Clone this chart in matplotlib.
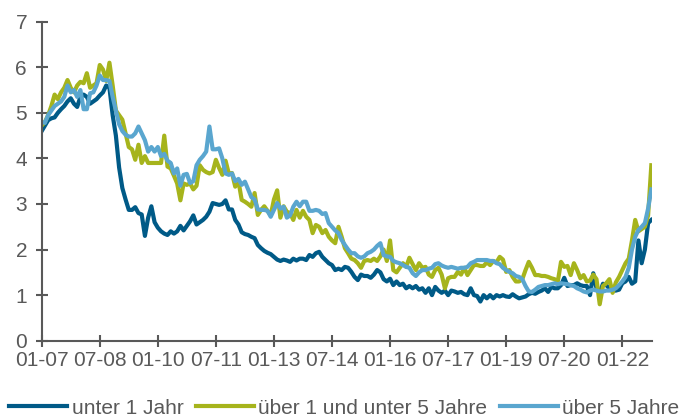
import matplotlib
matplotlib.use("Agg")
import matplotlib.pyplot as plt
import numpy as np

# Monthly values, Jan 2007 .. Oct 2022
unter_1_jahr = [
    4.6, 4.72, 4.84, 4.88, 4.9, 5.0, 5.08, 5.15, 5.25, 5.32, 5.2, 5.13,
    5.35, 5.4, 5.35, 5.2, 5.25, 5.3, 5.38, 5.45, 5.6, 5.55, 4.95, 4.5,
    3.8, 3.35, 3.1, 2.87, 2.87, 2.93, 2.8, 2.77, 2.3, 2.7, 2.95, 2.6,
    2.48, 2.4, 2.35, 2.32, 2.4, 2.35, 2.4, 2.52, 2.42, 2.52, 2.62, 2.75,
    2.55, 2.6, 2.65, 2.72, 2.83, 3.02, 3.0, 2.98, 3.0, 3.08, 2.88, 2.88,
    2.65, 2.55, 2.38, 2.34, 2.32, 2.28, 2.25, 2.1, 2.03, 1.97, 1.93, 1.9,
    1.84, 1.78, 1.75, 1.78, 1.76, 1.73, 1.8, 1.76, 1.8, 1.8, 1.77, 1.88,
    1.84, 1.92, 1.95, 1.84, 1.77, 1.7, 1.66, 1.55, 1.58, 1.55, 1.62, 1.6,
    1.51, 1.4, 1.33, 1.45, 1.42, 1.42, 1.38, 1.45, 1.55, 1.5, 1.35, 1.3,
    1.36, 1.22, 1.3, 1.22, 1.25, 1.15, 1.2, 1.15, 1.2, 1.12, 1.15, 1.05,
    1.15, 1.0, 1.18, 1.1, 1.05, 1.1, 1.0, 1.1, 1.08, 1.05, 1.07, 1.02,
    1.0, 1.15, 1.0, 0.98, 0.86, 1.0, 0.93, 1.0, 0.93, 1.0, 0.97, 1.0,
    0.97, 0.96, 1.02, 0.97, 0.93, 0.95, 0.97, 1.02, 1.05, 1.03, 1.07, 1.1,
    1.15, 1.07, 1.18, 1.15, 1.15, 1.22, 1.38, 1.2, 1.22, 1.22, 1.26, 1.22,
    1.2, 1.2, 1.0, 1.48, 1.15, 1.05, 1.25, 1.22, 1.15, 1.1, 1.1, 1.12,
    1.26, 1.3, 1.4, 1.25, 1.3, 2.2, 1.7, 2.0, 2.58, 2.65,
]

ueber_1_unter_5 = [
    4.72, 4.8, 4.95, 5.15, 5.4, 5.3, 5.45, 5.55, 5.72, 5.55, 5.45, 5.6,
    5.68, 5.65, 5.87, 5.55, 5.6, 5.65, 6.05, 5.95, 5.7, 6.1, 5.6, 5.05,
    4.95, 4.85, 4.55, 4.25, 4.2, 3.97, 4.3, 3.9, 4.05, 3.9, 3.9, 3.9,
    3.9, 3.9, 4.5, 3.82, 3.78, 3.62, 3.45, 3.08, 3.45, 3.42, 3.45, 3.32,
    3.4, 3.85, 3.75, 3.7, 3.67, 3.7, 3.97, 3.79, 3.64, 3.95, 3.67, 3.68,
    3.38, 3.5, 3.09, 3.05, 3.0, 2.94, 3.24, 2.76, 2.87, 2.95, 2.85, 2.75,
    3.1, 3.3, 2.7, 2.95, 2.83, 2.8, 2.65, 2.87, 2.7, 2.85, 2.72, 2.65,
    2.36, 2.54, 2.5, 2.36, 2.43, 2.28, 2.2, 2.14, 2.5, 2.28, 2.03, 1.92,
    1.8, 1.77, 1.7, 1.6, 1.75, 1.77, 1.75, 1.8, 1.75, 1.85, 2.0, 1.75,
    2.2, 1.55, 1.5, 1.6, 1.7, 1.62, 1.82, 1.68, 1.55, 1.7, 1.6, 1.62,
    1.45, 1.4, 1.55, 1.6, 1.45, 1.15, 1.37, 1.4, 1.4, 1.51, 1.45, 1.6,
    1.44, 1.55, 1.66, 1.66, 1.64, 1.64, 1.72, 1.66, 1.75, 1.72, 1.84, 1.78,
    1.51, 1.55, 1.4, 1.3, 1.3, 1.35, 1.55, 1.73, 1.6, 1.44, 1.44, 1.42,
    1.42, 1.4, 1.37, 1.35, 1.3, 1.73, 1.62, 1.64, 1.44, 1.7, 1.55, 1.37,
    1.44, 1.3, 1.32, 1.45, 1.35, 0.8, 1.2, 1.26, 1.35, 1.05, 1.28, 1.4,
    1.55, 1.7, 1.8, 2.2, 2.65, 2.4, 2.45, 2.5, 2.75, 3.85,
]

ueber_5_jahre = [
    4.8, 4.78, 4.95, 5.05, 5.15, 5.2, 5.25, 5.35, 5.6, 5.45, 5.5, 5.35,
    5.5, 5.08, 5.08, 5.43, 5.45, 5.6, 5.82, 5.72, 5.72, 5.7, 5.35, 5.05,
    4.75, 4.6, 4.52, 4.48, 4.48, 4.55, 4.7, 4.55, 4.4, 4.15, 4.25, 4.15,
    4.25, 4.05, 4.1, 3.95, 3.9, 3.67, 3.78, 3.4, 3.64, 3.66, 3.46, 3.5,
    3.85, 3.97, 4.05, 4.15, 4.7, 4.2, 4.2, 4.22, 4.0, 3.67, 3.64, 3.67,
    3.5, 3.55, 3.42, 3.49, 3.32, 3.15, 3.1, 2.88, 2.87, 2.87, 2.85, 2.72,
    2.87, 3.02, 2.9, 2.94, 2.7, 2.75, 2.94, 3.05, 2.95, 3.05, 3.05, 2.85,
    2.85, 2.87, 2.85, 2.78, 2.8, 2.58, 2.5, 2.42, 2.36, 2.21, 2.1, 2.0,
    1.92, 1.92, 1.85, 1.82, 1.85, 1.92, 1.95, 2.0, 2.08, 2.14, 1.88, 1.85,
    1.84, 1.75, 1.72, 1.7, 1.66, 1.62, 1.6, 1.48, 1.42, 1.5, 1.55, 1.55,
    1.58, 1.6, 1.68, 1.7, 1.65, 1.62, 1.6, 1.62, 1.6, 1.58, 1.6, 1.6,
    1.62, 1.7, 1.73, 1.77, 1.77, 1.77, 1.77, 1.75, 1.75, 1.7, 1.68, 1.6,
    1.55, 1.51, 1.48, 1.42, 1.4, 1.35, 1.2, 1.08, 1.07, 1.12, 1.18, 1.2,
    1.22, 1.22, 1.24, 1.26, 1.24, 1.26, 1.25, 1.24, 1.22, 1.2, 1.15, 1.12,
    1.08, 1.06, 1.1, 1.12, 1.1, 1.08, 1.08, 1.1, 1.1, 1.12, 1.15, 1.22,
    1.3, 1.4, 1.6, 2.0, 2.28, 2.43, 2.5, 2.58, 2.9, 3.32,
]

series_names = ["unter 1 Jahr", "über 1 und unter 5 Jahre", "über 5 Jahre"]
tick_labels = ["01-07", "07-08", "01-10", "07-11", "01-13", "07-14",
               "01-16", "07-17", "01-19", "07-20", "01-22"]
y_ticks = [0, 1, 2, 3, 4, 5, 6, 7]

colors = ["#005a87", "#a6b41c", "#5aa6cf"]
grey = "#595959"

plt.rcParams["font.family"] = ["Liberation Sans", "DejaVu Sans"]

fig = plt.figure(figsize=(6.84, 4.17), dpi=100)
W, H = 684, 417
x0, x1, ytop, ybot = 41.7, 652.3, 21.7, 340.7
ax = fig.add_axes([x0 / W, (H - ybot) / H, (x1 - x0) / W, (ybot - ytop) / H])

x = np.arange(len(unter_1_jahr))
for vals, name, c in zip([unter_1_jahr, ueber_1_unter_5, ueber_5_jahre], series_names, colors):
    ax.plot(x, vals, color=c, lw=3.0, label=name, solid_joinstyle="round")

ax.set_xlim(0, 189.3)
ax.set_ylim(0, 7)
ax.set_yticks(y_ticks)
ax.set_xticks(np.arange(len(tick_labels)) * 18)
ax.set_xticklabels(tick_labels)

for s in ["top", "right"]:
    ax.spines[s].set_visible(False)
for s in ["left", "bottom"]:
    ax.spines[s].set_color(grey)
    ax.spines[s].set_linewidth(1.5)

ax.tick_params(direction="inout", length=9, width=1.5, color=grey,
               labelsize=15, labelcolor=grey)
ax.tick_params(axis="y", pad=6)
ax.tick_params(axis="x", pad=3)

leg = fig.legend(loc="center left", bbox_to_anchor=(9 / W, 1 - 408 / H), ncol=3,
                 frameon=False, handlelength=2.8, handletextpad=0.2,
                 columnspacing=0.6, fontsize=15, borderaxespad=0, borderpad=0)
for t in leg.get_texts():
    t.set_color(grey)

fig.savefig("out.png", dpi=100)
